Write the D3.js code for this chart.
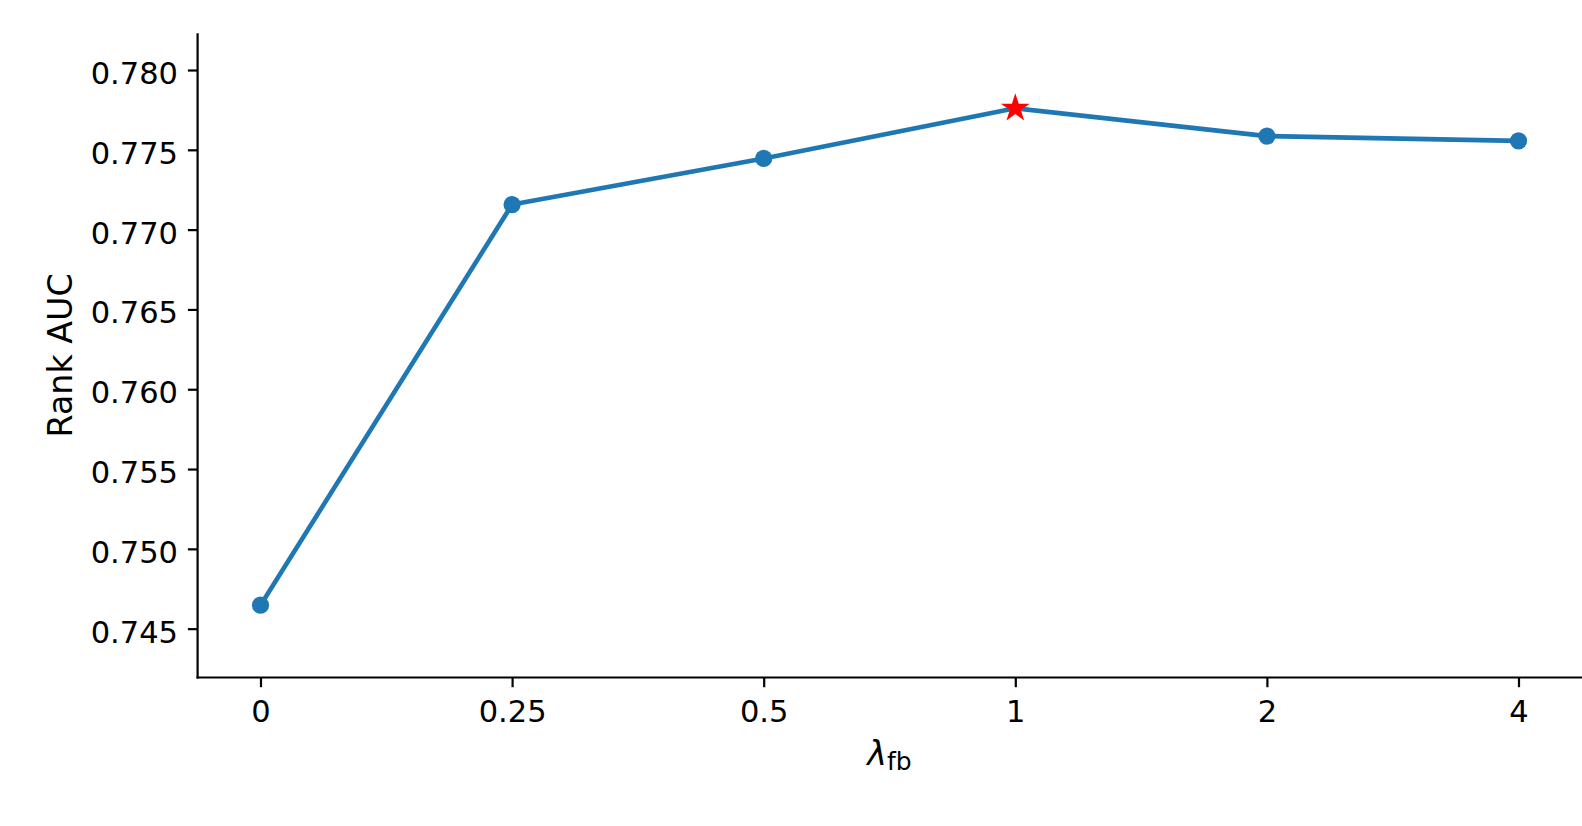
<!DOCTYPE html>
<html>
<head>
<meta charset="utf-8">
<script src="https://cdn.jsdelivr.net/npm/d3@7/dist/d3.min.js"></script>
<style>
  html, body { margin: 0; padding: 0; background: #ffffff; }
  svg { display: block; }
  text { font-family: "DejaVu Sans", sans-serif; fill: #000; }
</style>
</head>
<body>
<svg id="chart" width="1582" height="826"></svg>
<script>
// ---- data ----
const categories = ["0", "0.25", "0.5", "1", "2", "4"];
const rankAUC = [0.74647, 0.77157, 0.77446, 0.77760, 0.77586, 0.77556];
const bestIndex = 3;
const yTicks = [0.745, 0.750, 0.755, 0.760, 0.765, 0.770, 0.775, 0.780];
const yLabel = "Rank AUC";

(function () {
// ---- layout ----
const W = 1582, H = 826;
const mLeft = 197.6, mRight = 1581.4, mTop = 33.3, mBottom = 677.5;

const svg = d3.select("#chart");

const x = d3.scaleLinear().domain([-0.25, categories.length - 0.75]).range([mLeft, mRight]);
const y = d3.scaleLinear().domain([0.74194, 0.78230]).range([mBottom, mTop]);

// ---- line ----
const line = d3.line()
  .x((d, i) => x(i))
  .y(d => y(d));

svg.append("path")
  .datum(rankAUC)
  .attr("d", line)
  .attr("fill", "none")
  .attr("stroke", "#1f77b4")
  .attr("stroke-width", 4.6)
  .attr("stroke-linejoin", "round")
  .attr("stroke-linecap", "butt");

// ---- markers ----
svg.append("g")
  .selectAll("circle")
  .data(rankAUC.map((v, i) => ({ v, i })).filter(d => d.i !== bestIndex))
  .join("circle")
  .attr("cx", d => x(d.i))
  .attr("cy", d => y(d.v))
  .attr("r", 8.6)
  .attr("fill", "#1f77b4");

svg.append("path")
  .attr("d", d3.symbol().type(d3.symbolStar).size(150)())
  .attr("transform", `translate(${x(bestIndex)},${y(rankAUC[bestIndex])})`)
  .attr("fill", "#ff0000")
  .attr("stroke", "#ff0000")
  .attr("stroke-width", 2.2)
  .attr("stroke-linejoin", "miter");

// ---- axes ----
const xAxis = d3.axisBottom(x)
  .tickValues(d3.range(categories.length))
  .tickFormat(i => categories[i])
  .tickSize(9.7)
  .tickSizeOuter(0);

const gx = svg.append("g")
  .attr("transform", `translate(0,${mBottom})`)
  .call(xAxis);
gx.select(".domain").attr("stroke", "#000").attr("stroke-width", 2.2)
  .attr("d", `M${mLeft - 1.1},0H${W}`);
gx.selectAll(".tick line").attr("stroke", "#000").attr("stroke-width", 2.2);
gx.selectAll(".tick text")
  .attr("y", 44.5).attr("dy", null)
  .style("font-family", "DejaVu Sans, sans-serif")
  .style("font-size", "30.5px")
  .attr("fill", "#000");

const yAxis = d3.axisLeft(y)
  .tickValues(yTicks)
  .tickFormat(d3.format(".3f"))
  .tickSize(9.7)
  .tickSizeOuter(0);

const gy = svg.append("g")
  .attr("transform", `translate(${mLeft},0)`)
  .call(yAxis);
gy.select(".domain").attr("stroke", "#000").attr("stroke-width", 2.2)
  .attr("d", `M0,${mTop}V${mBottom + 1.1}`);
gy.selectAll(".tick line").attr("stroke", "#000").attr("stroke-width", 2.2);
gy.selectAll(".tick text")
  .attr("x", -19.6).attr("dy", "0.44em")
  .style("font-family", "DejaVu Sans, sans-serif")
  .style("font-size", "30.5px")
  .attr("fill", "#000");

// ---- axis labels ----
svg.append("text")
  .attr("transform", `translate(71.7,${(mTop + mBottom) / 2}) rotate(-90)`)
  .attr("text-anchor", "middle")
  .style("font-size", "33.3px")
  .text(yLabel);

const xl = svg.append("text")
  .attr("x", (mLeft + mRight) / 2)
  .attr("y", 765)
  .attr("text-anchor", "middle")
  .style("font-size", "33.3px");
xl.append("tspan").style("font-style", "italic").text("λ");
xl.append("tspan").attr("dy", 5).style("font-size", "25px").text("fb");
})();
</script>
</body>
</html>
